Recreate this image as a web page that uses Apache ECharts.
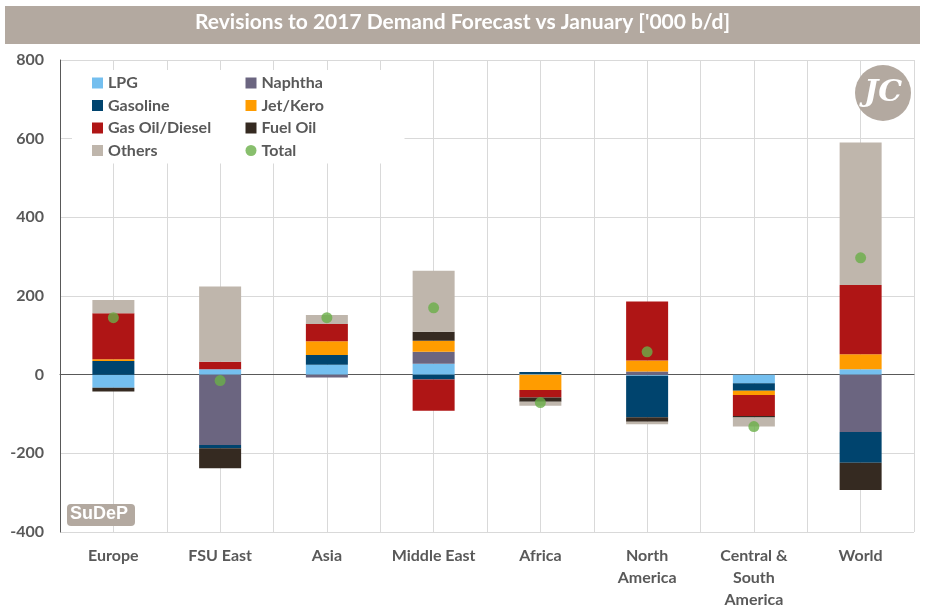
<!DOCTYPE html>
<html>
<head>
<meta charset="utf-8">
<script src="https://cdn.jsdelivr.net/npm/echarts@6/dist/echarts.min.js"></script>
<style>
html,body{margin:0;padding:0;background:#fff;}
#chart{width:925px;height:612px;}
</style>
</head>
<body>
<div id="chart"></div>
<script>
const categories = ['Europe', 'FSU East', 'Asia', 'Middle East', 'Africa', 'North\nAmerica', 'Central &\nSouth\nAmerica', 'World'];
const lpg      = [-33,  14,  25,  28,   2,   -3, -22,   14];
const naphtha  = [  0, -179, -7,  30,   0,    8,   0, -146];
const gasoline = [ 35,  -8,  25, -12,   5, -105, -19,  -78];
const jetKero  = [  4,   0,  35,  28, -39,   28, -11,   38];
const gasOil   = [117,  19,  44, -80, -19,  150, -53,  176];
const fuelOil  = [-10, -51,   0,  23, -11,  -12,  -4,  -69];
const others   = [ 34, 191,  23, 155, -10,   -6, -23,  362];
const total    = [145, -15, 145, 170, -71,   58, -132, 297];
const yTicks   = [-400, -200, 0, 200, 400, 600, 800];

const FONT = 'Lato, "Open Sans", sans-serif';
const GREY = '#595959';

const seriesDefs = [
  ['LPG', lpg, '#74BFEF'],
  ['Naphtha', naphtha, '#6B6580'],
  ['Gasoline', gasoline, '#00446E'],
  ['Jet/Kero', jetKero, '#FF9C00'],
  ['Gas Oil/Diesel', gasOil, '#AF1515'],
  ['Fuel Oil', fuelOil, '#352A21'],
  ['Others', others, '#BFB6AC']
];

const chart = echarts.init(document.getElementById('chart'));
const series = seriesDefs.map(([name, data, color]) => ({
  name, type: 'bar', stack: 'all', data, barWidth: 42,
  itemStyle: { color }, xAxisIndex: 0, yAxisIndex: 0, z: 3
}));
series.push({
  name: 'Total', type: 'scatter', data: total, symbol: 'circle', symbolSize: 11,
  itemStyle: { color: '#6AAF48' }, xAxisIndex: 0, yAxisIndex: 0, z: 5
});

chart.setOption({
  animation: false,
  backgroundColor: '#fff',
  grid: { left: 60, right: 11, top: 60, bottom: 80, containLabel: false },
  legend: {
    left: 72, top: 70, width: 310,
    padding: [4, 10, 4, 20],
    backgroundColor: '#fff',
    itemWidth: 11, itemHeight: 11, itemGap: 4.5,
    data: [
      { name: 'LPG', icon: 'rect' }, { name: 'Naphtha', icon: 'rect' },
      { name: 'Gasoline', icon: 'rect' }, { name: 'Jet/Kero', icon: 'rect' },
      { name: 'Gas Oil/Diesel', icon: 'rect' }, { name: 'Fuel Oil', icon: 'rect' },
      { name: 'Others', icon: 'rect' }, { name: 'Total', icon: 'circle' }
    ],
    textStyle: { fontFamily: FONT, fontSize: 16, fontWeight: 'bold', color: GREY, width: 133, lineHeight: 18 }
  },
  xAxis: [
    {
      type: 'category', data: categories, position: 'bottom',
      axisLine: { show: true, onZero: true, lineStyle: { color: GREY, width: 1 } },
      axisTick: { show: false },
      splitLine: { show: false },
      axisLabel: { interval: 0, fontFamily: FONT, fontSize: 16, fontWeight: 'bold', color: GREY, margin: 13, lineHeight: 22, verticalAlign: 'top' }
    },
    {
      type: 'value', min: 0, max: 16, interval: 1, position: 'top',
      axisLine: { show: false }, axisTick: { show: false }, axisLabel: { show: false },
      splitLine: { show: true, lineStyle: { color: '#D9D9D9', width: 1 } }
    }
  ],
  yAxis: {
    type: 'value', min: yTicks[0], max: yTicks[yTicks.length - 1], interval: 200,
    axisLine: { show: true, lineStyle: { color: GREY, width: 1 } },
    axisTick: { show: false },
    splitLine: { lineStyle: { color: '#D9D9D9', width: 1 } },
    axisLabel: { fontFamily: FONT, fontSize: 16, fontWeight: 'bold', color: GREY, margin: 16 }
  },
  graphic: [
    { type: 'rect', left: 5, top: 6, shape: { width: 915, height: 38 }, style: { fill: '#B3A9A0' }, z: 10 },
    { type: 'text', left: 'center', top: 12, style: { text: "Revisions to 2017 Demand Forecast vs January ['000 b/d]", fill: '#fff', font: 'bold 21px ' + FONT }, z: 11 },
    { type: 'rect', left: 67, top: 504, shape: { width: 68, height: 22, r: 4 }, style: { fill: '#B3A9A0' }, z: 10 },
    { type: 'text', left: 70, top: 505, style: { text: 'SuDeP', fill: '#fff', font: 'bold 18px "Liberation Sans", Arial, sans-serif' }, z: 11 },
    { type: 'circle', shape: { cx: 883, cy: 93, r: 28 }, style: { fill: '#B3A9A0' }, z: 10 },
    { type: 'text', x: 883, y: 93, style: { text: 'JC', fill: '#fff', font: 'italic bold 30px "DejaVu Serif", serif', align: 'center', verticalAlign: 'middle' }, z: 11 }
  ],
  series
});
</script>
</body>
</html>
